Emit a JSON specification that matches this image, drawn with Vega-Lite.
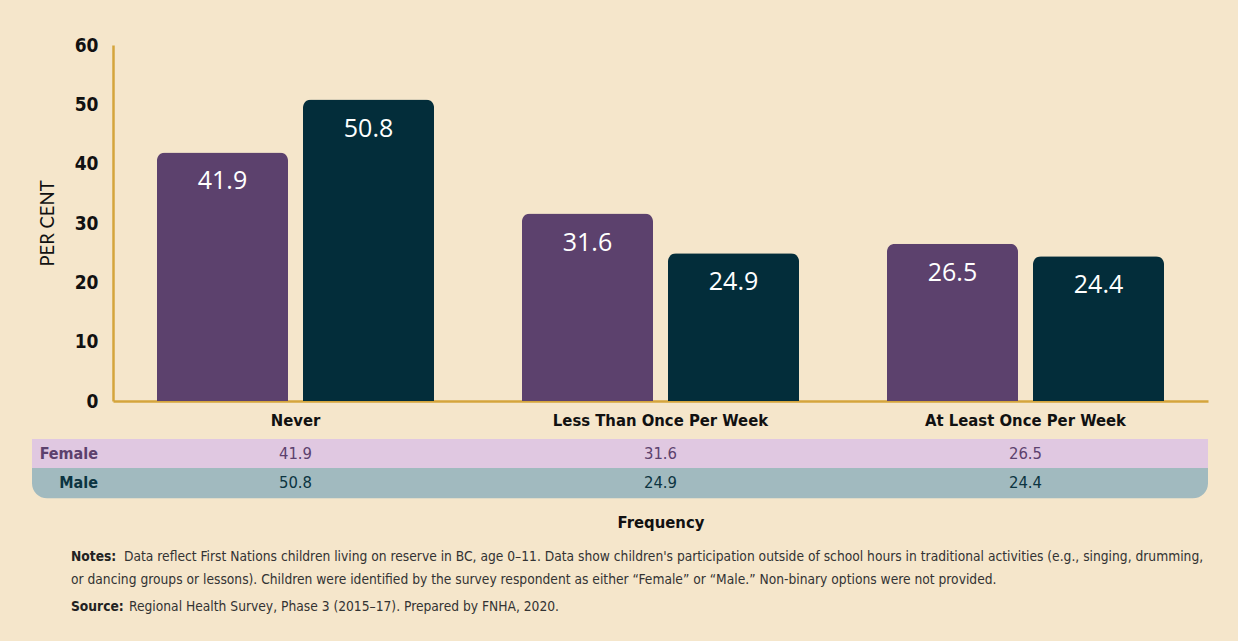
{
  "$schema": "https://vega.github.io/schema/vega-lite/v6.json",
  "width": 1176,
  "height": 356,
  "autosize": {"type": "none"},
  "padding": {"left": 32, "top": 45, "right": 30, "bottom": 240},
  "background": "#f5e6cb",
  "config": {
    "view": {"stroke": null},
    "font": "DejaVu Sans Condensed, Roboto Condensed, Arial Narrow, Liberation Sans Narrow, Roboto"
  },
  "data": {
    "values": [
      {"frequency": "Never", "sex": "Female", "percent": 41.9},
      {"frequency": "Never", "sex": "Male", "percent": 50.8},
      {"frequency": "Less Than Once Per Week", "sex": "Female", "percent": 31.6},
      {"frequency": "Less Than Once Per Week", "sex": "Male", "percent": 24.9},
      {"frequency": "At Least Once Per Week", "sex": "Female", "percent": 26.5},
      {"frequency": "At Least Once Per Week", "sex": "Male", "percent": 24.4}
    ]
  },
  "layer": [
    {
      "transform": [{"filter": "datum.sex === 'Female' && datum.frequency === 'Never'"}],
      "mark": {"type": "rect", "color": "#e0c8e1"},
      "encoding": {
        "y": {"datum": -6.4, "type": "quantitative", "scale": {"domain": [0, 60], "nice": false}},
        "y2": {"datum": -11.29}
      }
    },
    {
      "transform": [{"filter": "datum.sex === 'Female' && datum.frequency === 'Never'"}],
      "mark": {"type": "rect", "color": "#a1babf", "cornerRadiusBottomLeft": 16, "cornerRadiusBottomRight": 16},
      "encoding": {
        "y": {"datum": -11.29, "type": "quantitative"},
        "y2": {"datum": -16.4}
      }
    },
    {
      "mark": {"type": "bar", "cornerRadiusTopLeft": 8, "cornerRadiusTopRight": 8},
      "encoding": {
        "x": {
          "field": "frequency",
          "type": "nominal",
          "sort": ["Never", "Less Than Once Per Week", "At Least Once Per Week"],
          "scale": {"range": [81, 1176], "paddingInner": 0, "paddingOuter": 0},
          "axis": {
            "title": "Frequency",
            "labelAngle": 0,
            "labelLimit": 0,
            "ticks": false,
            "domainColor": "#d4a53c",
            "domainWidth": 2.5,
            "labelFontSize": 16.5,
            "labelFontWeight": "bold",
            "labelColor": "#111111",
            "labelPadding": 11,
            "titleFontSize": 16.5,
            "titleFontWeight": "bold",
            "titleColor": "#111111",
            "titlePadding": 86
          }
        },
        "y": {
          "field": "percent",
          "type": "quantitative",
          "scale": {"domain": [0, 60], "nice": false},
          "axis": {
            "title": "PER CENT",
            "offset": -81,
            "values": [0, 10, 20, 30, 40, 50, 60],
            "ticks": false,
            "domainColor": "#d4a53c",
            "domainWidth": 2.5,
            "gridColor": "#ffffff",
            "gridWidth": 1.5,
            "labelFontSize": 19,
            "labelFontWeight": "bold",
            "labelColor": "#111111",
            "labelPadding": 15,
            "titleFont": "Lato",
            "titleFontSize": 18.5,
            "titleFontWeight": "normal",
            "titleColor": "#111111",
            "titleX": -56,
            "titleY": 178
          }
        },
        "xOffset": {"field": "sex", "type": "nominal", "scale": {"paddingInner": 0.1027, "paddingOuter": 0.301}},
        "color": {"field": "sex", "type": "nominal", "scale": {"domain": ["Female", "Male"], "range": ["#5c416d", "#032d3a"]}, "legend": null}
      }
    },
    {
      "mark": {"type": "text", "dy": 29, "baseline": "middle", "font": "Open Sans", "fontSize": 25, "color": "#ffffff"},
      "encoding": {
        "x": {"field": "frequency", "type": "nominal", "sort": ["Never", "Less Than Once Per Week", "At Least Once Per Week"]},
        "y": {"field": "percent", "type": "quantitative"},
        "xOffset": {"field": "sex", "type": "nominal"},
        "text": {"field": "percent", "type": "quantitative", "format": ".1f"}
      }
    },
    {
      "transform": [{"filter": "datum.sex === 'Female'"}],
      "mark": {"type": "text", "baseline": "middle", "fontSize": 16.5, "color": "#5c416d"},
      "encoding": {
        "x": {"field": "frequency", "type": "nominal", "sort": ["Never", "Less Than Once Per Week", "At Least Once Per Week"]},
        "y": {"datum": -8.85, "type": "quantitative"},
        "text": {"field": "percent", "type": "quantitative", "format": ".1f"}
      }
    },
    {
      "transform": [{"filter": "datum.sex === 'Male'"}],
      "mark": {"type": "text", "baseline": "middle", "fontSize": 16.5, "color": "#0c3441"},
      "encoding": {
        "x": {"field": "frequency", "type": "nominal", "sort": ["Never", "Less Than Once Per Week", "At Least Once Per Week"]},
        "y": {"datum": -13.85, "type": "quantitative"},
        "text": {"field": "percent", "type": "quantitative", "format": ".1f"}
      }
    },
    {
      "transform": [{"filter": "datum.sex === 'Female' && datum.frequency === 'Never'"}],
      "mark": {"type": "text", "baseline": "middle", "align": "right", "dx": -15, "fontSize": 16, "fontWeight": "bold", "color": "#5c416d"},
      "encoding": {
        "x": {"field": "frequency", "type": "nominal", "bandPosition": 0, "sort": ["Never", "Less Than Once Per Week", "At Least Once Per Week"]},
        "y": {"datum": -8.85, "type": "quantitative"},
        "text": {"field": "sex"}
      }
    },
    {
      "transform": [{"filter": "datum.sex === 'Male' && datum.frequency === 'Never'"}],
      "mark": {"type": "text", "baseline": "middle", "align": "right", "dx": -15, "fontSize": 16, "fontWeight": "bold", "color": "#0c3441"},
      "encoding": {
        "x": {"field": "frequency", "type": "nominal", "bandPosition": 0, "sort": ["Never", "Less Than Once Per Week", "At Least Once Per Week"]},
        "y": {"datum": -13.85, "type": "quantitative"},
        "text": {"field": "sex"}
      }
    },
    {
      "transform": [{"filter": "datum.sex === 'Female' && datum.frequency === 'Never'"}],
      "mark": {"type": "text", "baseline": "middle", "align": "left", "dx": -42, "fontSize": 13.7, "fontWeight": "bold", "color": "#222222", "text": "Notes:"},
      "encoding": {
        "x": {"field": "frequency", "type": "nominal", "bandPosition": 0, "sort": ["Never", "Less Than Once Per Week", "At Least Once Per Week"]},
        "y": {"datum": -26.3, "type": "quantitative"}
      }
    },
    {
      "transform": [{"filter": "datum.sex === 'Female' && datum.frequency === 'Never'"}],
      "mark": {"type": "text", "baseline": "middle", "align": "left", "dx": 11, "fontSize": 13.7, "color": "#333333", "text": "Data reflect First Nations children living on reserve in BC, age 0–11. Data show children's participation outside of school hours in traditional activities (e.g., singing, drumming,"},
      "encoding": {
        "x": {"field": "frequency", "type": "nominal", "bandPosition": 0, "sort": ["Never", "Less Than Once Per Week", "At Least Once Per Week"]},
        "y": {"datum": -26.3, "type": "quantitative"}
      }
    },
    {
      "transform": [{"filter": "datum.sex === 'Female' && datum.frequency === 'Never'"}],
      "mark": {"type": "text", "baseline": "middle", "align": "left", "dx": -42, "fontSize": 13.7, "color": "#333333", "text": "or dancing groups or lessons). Children were identified by the survey respondent as either “Female” or “Male.” Non-binary options were not provided."},
      "encoding": {
        "x": {"field": "frequency", "type": "nominal", "bandPosition": 0, "sort": ["Never", "Less Than Once Per Week", "At Least Once Per Week"]},
        "y": {"datum": -30.2, "type": "quantitative"}
      }
    },
    {
      "transform": [{"filter": "datum.sex === 'Female' && datum.frequency === 'Never'"}],
      "mark": {"type": "text", "baseline": "middle", "align": "left", "dx": -42, "fontSize": 13.7, "fontWeight": "bold", "color": "#222222", "text": "Source:"},
      "encoding": {
        "x": {"field": "frequency", "type": "nominal", "bandPosition": 0, "sort": ["Never", "Less Than Once Per Week", "At Least Once Per Week"]},
        "y": {"datum": -34.7, "type": "quantitative"}
      }
    },
    {
      "transform": [{"filter": "datum.sex === 'Female' && datum.frequency === 'Never'"}],
      "mark": {"type": "text", "baseline": "middle", "align": "left", "dx": 16, "fontSize": 13.7, "color": "#333333", "text": "Regional Health Survey, Phase 3 (2015–17). Prepared by FNHA, 2020."},
      "encoding": {
        "x": {"field": "frequency", "type": "nominal", "bandPosition": 0, "sort": ["Never", "Less Than Once Per Week", "At Least Once Per Week"]},
        "y": {"datum": -34.7, "type": "quantitative"}
      }
    }
  ]
}
